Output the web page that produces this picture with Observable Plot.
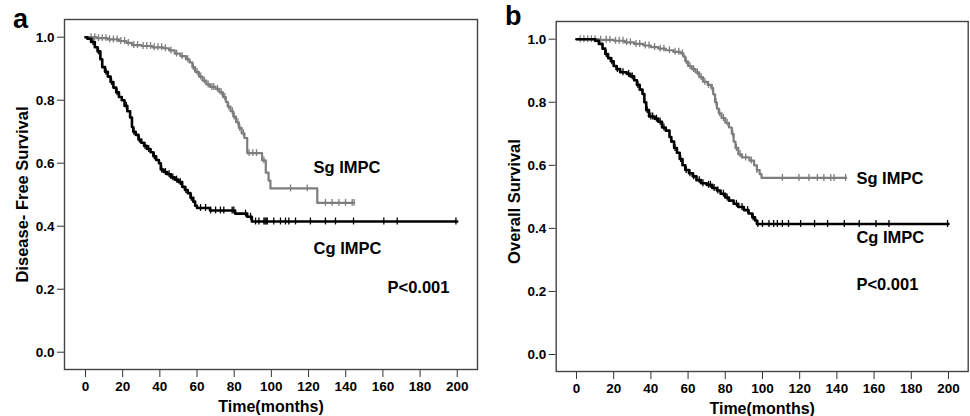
<!DOCTYPE html>
<html>
<head>
<meta charset="utf-8">
<script src="https://cdn.jsdelivr.net/npm/d3@7"></script>
<script src="https://cdn.jsdelivr.net/npm/@observablehq/plot@0.6"></script>
<style>
  html, body { margin: 0; padding: 0; background: #fff; }
  #wrap { position: relative; width: 970px; height: 416px; overflow: hidden; background: #fff;
          font-family: "Liberation Sans", Arial, sans-serif; }
  .panel { position: absolute; top: 0; z-index: 1; }
  .letter { position: absolute; z-index: 5; font-weight: bold; font-size: 27px; line-height: 1; color: #000; }
</style>
</head>
<body>
<div id="wrap">
  <div id="pa" class="panel" style="left:0px;"></div>
  <div id="pb" class="panel" style="left:490px;"></div>
  <div class="letter" style="left:13px; top:6px;">a</div>
  <div class="letter" style="left:505px; top:3px;">b</div>
</div>
<script>
// ---------- tick labels ----------
const xTicks = [0, 20, 40, 60, 80, 100, 120, 140, 160, 180, 200];
const yTicks = [0.0, 0.2, 0.4, 0.6, 0.8, 1.0];

// ---------- panel a: Disease-free survival ----------
const aCgTime = [0, 1, 3, 5, 6.5, 8, 9, 10.5, 12, 13.5, 15, 16.5, 18, 19.5, 21, 22.5, 24, 25, 25.7, 27, 28.5, 30, 31.5, 33, 35, 36.5, 38, 39.5, 40.5, 42, 44, 46, 48, 50, 52, 53.5, 55, 56.5, 58, 59, 60, 67, 80.5, 87, 89.5, 200];
const aCgSurv = [1.0, 0.995, 0.985, 0.968, 0.955, 0.93, 0.905, 0.89, 0.875, 0.858, 0.84, 0.825, 0.81, 0.8, 0.782, 0.765, 0.745, 0.715, 0.7, 0.69, 0.675, 0.665, 0.655, 0.645, 0.635, 0.622, 0.61, 0.6, 0.58, 0.572, 0.565, 0.555, 0.548, 0.54, 0.525, 0.515, 0.505, 0.49, 0.478, 0.465, 0.458, 0.45, 0.44, 0.43, 0.415, 0.415];
const aCgCensor = [4, 7, 11, 14, 17, 22, 26, 29, 32, 34, 37, 41, 43, 45, 47, 49, 51, 54, 57, 61.9, 64.6, 67.3, 70, 72.6, 74.4, 78.9, 79.8, 86.1, 88.8, 91.5, 93.3, 96, 96.6, 97.2, 97.8, 101.3, 104.9, 107.6, 109.4, 113, 121, 129.1, 134.5, 144.2, 160.5, 167.7, 199.3];

const aSgTime = [0, 6, 12, 18, 22, 25, 30, 36, 42, 45, 48, 51, 54, 56, 57.5, 59, 61, 63, 65, 67, 70, 72, 74, 75.5, 76.5, 78, 79.5, 81, 82.5, 84, 85.5, 87, 95, 97, 98.5, 99.5, 124.7, 144.5];
const aSgSurv = [1.0, 0.997, 0.993, 0.988, 0.982, 0.975, 0.972, 0.968, 0.965, 0.958, 0.948, 0.94, 0.93, 0.92, 0.905, 0.89, 0.875, 0.862, 0.85, 0.842, 0.836, 0.825, 0.81, 0.795, 0.78, 0.765, 0.748, 0.73, 0.712, 0.695, 0.68, 0.632, 0.609, 0.57, 0.545, 0.52, 0.474, 0.474];
const aSgCensor = [3, 5, 7, 9, 11, 13, 15, 17, 19, 21, 23, 26, 28, 31, 33, 35, 37, 39, 41, 43, 46, 49, 52, 55, 58, 60, 62, 64, 66, 68, 69, 71, 73, 75, 77, 79, 80, 82, 83, 85, 88, 90, 92, 96, 110.3, 119.3, 129.1, 132.7, 136.3, 139.9, 143.5, 144.5];

// ---------- panel b: Overall survival ----------
const bCgTime = [0, 10, 12, 14, 15.5, 17, 18.5, 20, 21.5, 23.5, 27, 29, 31, 32.5, 34, 35.5, 36.5, 37.5, 39, 42, 44, 46, 48, 50, 51, 52.5, 54, 55.5, 57, 58.5, 60.5, 62.5, 64.5, 67, 70, 73, 75.5, 77.5, 80, 82, 84.5, 87, 90, 92.5, 94.5, 96, 97, 200];
const bCgSurv = [1.0, 0.995, 0.985, 0.97, 0.953, 0.94, 0.93, 0.915, 0.905, 0.895, 0.89, 0.882, 0.87, 0.855, 0.84, 0.826, 0.8, 0.775, 0.755, 0.748, 0.738, 0.72, 0.71, 0.69, 0.675, 0.655, 0.64, 0.62, 0.6, 0.585, 0.575, 0.565, 0.553, 0.543, 0.538, 0.528, 0.52, 0.51, 0.498, 0.488, 0.478, 0.468, 0.458, 0.447, 0.435, 0.425, 0.414, 0.414];
const bCgCensor = [16, 19, 22, 25, 28, 30, 33, 38, 40, 41, 43, 45, 47, 53, 56, 59, 61, 63, 66, 68, 71, 72, 74, 76, 79, 81, 86, 89, 92, 95, 97.5, 100, 103.5, 106, 108, 110.7, 114, 120.5, 128, 135, 144, 152, 161, 168, 199.5];

const bSgTime = [0, 12, 20, 26, 31, 36, 40, 44, 48, 52, 56, 57.5, 58.5, 60, 62, 64, 66, 68, 70.5, 72.5, 73.5, 74.5, 75.5, 76.5, 78, 80, 82, 83.5, 84.5, 85.5, 87, 89, 93, 95.5, 97, 98.5, 99.5, 145];
const bSgSurv = [1.0, 0.998, 0.995, 0.99, 0.985, 0.98, 0.975, 0.97, 0.965, 0.96, 0.955, 0.945, 0.93, 0.915, 0.905, 0.895, 0.88, 0.865, 0.855, 0.845, 0.825, 0.8, 0.78, 0.765, 0.75, 0.735, 0.72, 0.7, 0.675, 0.655, 0.635, 0.625, 0.615, 0.6, 0.585, 0.572, 0.56, 0.56];
const bSgCensor = [2, 4, 6, 8, 10, 13, 16, 18, 21, 23, 25, 27, 29, 32, 34, 37, 39, 42, 45, 47, 50, 53, 55, 57, 59, 61, 63, 65, 67, 69, 71, 73, 75, 77, 79, 81, 84, 86, 88, 91, 94, 97, 110.7, 119.6, 125, 129.5, 133, 136.7, 138.5, 144.7];

// ---------- helpers ----------
const GRAY = "#7d7d7d";
const BLACK = "#000";
function steps(times, surv) { return times.map((t, i) => ({t, s: surv[i]})); }
function survAt(times, surv, t) {
  let s = surv[0];
  for (let i = 0; i < times.length; i++) { if (times[i] <= t) s = surv[i]; else break; }
  return s;
}
function censors(cTimes, times, surv) { return cTimes.map(t => ({t, s: survAt(times, surv, t)})); }

function panel(opts) {
  const cg = steps(opts.cgT, opts.cgS), sg = steps(opts.sgT, opts.sgS);
  const cgC = censors(opts.cgC, opts.cgT, opts.cgS), sgC = censors(opts.sgC, opts.sgT, opts.sgS);
  const tk = 0.011;
  return Plot.plot({
    width: opts.width, height: 416,
    marginLeft: opts.ml, marginRight: opts.mr, marginTop: opts.mt, marginBottom: opts.mb,
    x: {domain: opts.xd, ticks: xTicks, tickFormat: d => String(d), label: null},
    y: {domain: opts.yd, ticks: yTicks, tickFormat: d => d.toFixed(1), label: null},
    style: {fontFamily: "'Liberation Sans', Arial, sans-serif", fontSize: "13px", fontWeight: "bold", background: "#fff", color: "#000", overflow: "visible"},
    marks: [
      Plot.axisX({ticks: xTicks, tickSize: 8, tickPadding: 4, fontSize: 13.5, fontWeight: "bold", tickFormat: d => String(d), stroke: "#333", label: null}),
      Plot.axisY({ticks: yTicks, tickSize: 7, tickPadding: 3, fontSize: 13.5, fontWeight: "bold", tickFormat: d => d.toFixed(1), stroke: "#333", label: null}),
      Plot.frame({stroke: "#444", strokeWidth: 1.4}),
      Plot.line(sg, {x: "t", y: "s", curve: "step-after", stroke: GRAY, strokeWidth: 2.2}),
      Plot.ruleX(sgC, {x: "t", y1: d => d.s - tk, y2: d => d.s + tk, stroke: GRAY, strokeWidth: 1.3}),
      Plot.line(cg, {x: "t", y: "s", curve: "step-after", stroke: BLACK, strokeWidth: 2.6}),
      Plot.ruleX(cgC, {x: "t", y1: d => d.s - tk, y2: d => d.s + tk, stroke: BLACK, strokeWidth: 1.3}),
      Plot.text([opts.ylabel], {frameAnchor: "left", textAnchor: "middle", lineAnchor: "middle", dx: -opts.ylabOff, dy: opts.ylabDy, rotate: -90, fontSize: 16.5, fontWeight: "bold", fill: "#000"}),
      Plot.text(["Time(months)"], {frameAnchor: "bottom", textAnchor: "middle", lineAnchor: "middle", dy: 37, fontSize: 16, fontWeight: "bold", fill: "#000"}),
      Plot.text(opts.labels, {x: "x", y: "y", text: "text", textAnchor: "start", fontSize: 16.5, fontWeight: "bold", fill: "#000"})
    ]
  });
}

document.getElementById("pa").appendChild(panel({
  width: 485, ml: 64, mr: 8, mt: 19, mb: 47,
  xd: [-11.3, 210.9], yd: [-0.0549, 1.0562],
  cgT: aCgTime, cgS: aCgSurv, cgC: aCgCensor,
  sgT: aSgTime, sgS: aSgSurv, sgC: aSgCensor,
  ylabel: "Disease- Free Survival", ylabOff: 42, ylabDy: 0,
  labels: [
    {x: 122.7, y: 0.586, text: "Sg IMPC"},
    {x: 122.7, y: 0.329, text: "Cg IMPC"},
    {x: 162.5, y: 0.205, text: "P<0.001"}
  ]
}));

document.getElementById("pb").appendChild(panel({
  width: 480, ml: 65.7, mr: 2.3, mt: 21, mb: 45,
  xd: [-10.9, 210.6], yd: [-0.0539, 1.0561],
  cgT: bCgTime, cgS: bCgSurv, cgC: bCgCensor,
  sgT: bSgTime, sgS: bSgSurv, sgC: bSgCensor,
  ylabel: "Overall Survival", ylabOff: 41, ylabDy: 5,
  labels: [
    {x: 150.5, y: 0.558, text: "Sg IMPC"},
    {x: 150.5, y: 0.371, text: "Cg IMPC"},
    {x: 150.5, y: 0.222, text: "P<0.001"}
  ]
}));
</script>
</body>
</html>
